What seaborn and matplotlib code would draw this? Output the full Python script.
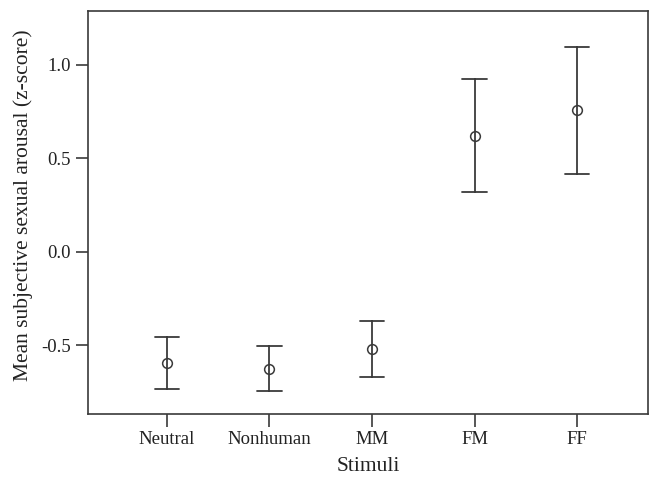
import pandas as pd
import seaborn as sns
import matplotlib.pyplot as plt

# === data ===
stimuli = ["Neutral", "Nonhuman", "MM", "FM", "FF"]
means = [-0.593, -0.627, -0.522, 0.622, 0.759]
lower = [-0.732, -0.744, -0.671, 0.319, 0.419]
upper = [-0.454, -0.502, -0.368, 0.925, 1.096]

# long table: median of (lower, mean, upper) = mean, full range = error bar
rows = []
for s, lo, m, hi in zip(stimuli, lower, means, upper):
    for v in (lo, m, hi):
        rows.append({"Stimuli": s, "value": v})
df = pd.DataFrame(rows)

sns.set_style("ticks")
plt.rcParams["font.family"] = ["Liberation Serif", "DejaVu Serif"]

line_col = "#3a3a3a"
fig = plt.figure(figsize=(6.55, 4.84), dpi=100)
ax = fig.add_axes([0.1344, 0.1446, 0.8546, 0.8334])

sns.pointplot(
    data=df, x="Stimuli", y="value", order=stimuli,
    estimator="median", errorbar=("pi", 100),
    linestyle="none", marker="o", markersize=7,
    markerfacecolor="white", markeredgecolor=line_col, markeredgewidth=1.1,
    color=line_col, capsize=0.24,
    err_kws={"linewidth": 1.3, "color": line_col},
    ax=ax,
)

ax.set_xlim(-0.77, 4.69)
ax.set_ylim(-0.867, 1.29)
ax.set_yticks([-0.5, 0.0, 0.5, 1.0])
ax.set_yticklabels(["-0.5", "0.0", "0.5", "1.0"])
ax.set_xlabel("Stimuli", fontsize=15.5, color="#222222", labelpad=6)
ax.set_ylabel("Mean subjective sexual arousal (z-score)", fontsize=15.5,
              color="#222222", labelpad=6)
ax.yaxis.label.set_y(0.517)
ax.tick_params(axis="both", direction="out", length=9, width=1.2, color=line_col,
               labelsize=13.5, labelcolor="#222222")
for sp in ax.spines.values():
    sp.set_visible(True)
    sp.set_color(line_col)
    sp.set_linewidth(1.2)

fig.savefig("out.png", dpi=100)
